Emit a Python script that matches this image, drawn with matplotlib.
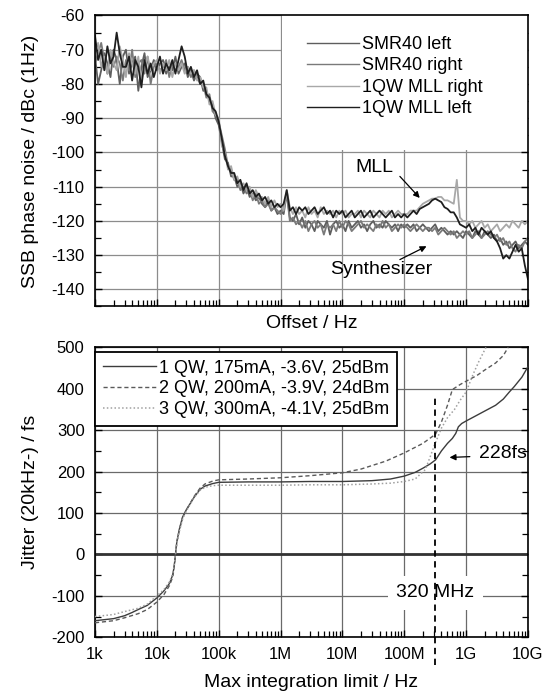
import numpy as np
import matplotlib
matplotlib.use("Agg")
import matplotlib.pyplot as plt
from matplotlib.patches import Rectangle
from matplotlib.ticker import LogLocator, MultipleLocator, FixedLocator, NullFormatter

plt.rcParams['font.family'] = ['Liberation Sans', 'DejaVu Sans']
plt.rcParams['axes.unicode_minus'] = False

# ---- top panel: SSB phase noise, sampled every 0.05 decade from 1 kHz to 10 GHz (log10 Hz)
noise_logf = [
    3.00, 3.05, 3.10, 3.15, 3.20, 3.25, 3.30, 3.35, 3.40, 3.45, 3.50, 3.55, 3.60, 3.65, 3.70, 3.75, 3.80, 3.85, 3.90, 3.95,
    4.00, 4.05, 4.10, 4.15, 4.20, 4.25, 4.30, 4.35, 4.40, 4.45, 4.50, 4.55, 4.60, 4.65, 4.70, 4.75, 4.80, 4.85, 4.90, 4.95,
    5.00, 5.05, 5.10, 5.15, 5.20, 5.25, 5.30, 5.35, 5.40, 5.45, 5.50, 5.55, 5.60, 5.65, 5.70, 5.75, 5.80, 5.85, 5.90, 5.95,
    6.00, 6.05, 6.10, 6.15, 6.20, 6.25, 6.30, 6.35, 6.40, 6.45, 6.50, 6.55, 6.60, 6.65, 6.70, 6.75, 6.80, 6.85, 6.90, 6.95,
    7.00, 7.05, 7.10, 7.15, 7.20, 7.25, 7.30, 7.35, 7.40, 7.45, 7.50, 7.55, 7.60, 7.65, 7.70, 7.75, 7.80, 7.85, 7.90, 7.95,
    8.00, 8.05, 8.10, 8.15, 8.20, 8.25, 8.30, 8.35, 8.40, 8.45, 8.50, 8.55, 8.60, 8.65, 8.70, 8.75, 8.80, 8.85, 8.90, 8.95,
    9.00, 9.05, 9.10, 9.15, 9.20, 9.25, 9.30, 9.35, 9.40, 9.45, 9.50, 9.55, 9.60, 9.65, 9.70, 9.75, 9.80, 9.85, 9.90, 9.95,
    10.00]

smr40_left = [
    -72, -80, -76, -71, -74, -78, -70, -73, -80, -72, -70, -77, -74, -72, -82, -75, -71, -78, -76, -73,
    -76, -74, -73, -77, -75, -76, -72, -77, -75, -74, -78, -76, -79, -77, -78, -82, -82, -85, -86, -90,
    -92, -97, -102, -103, -107, -107, -110, -109, -112, -110, -113, -112, -114, -113, -115, -116, -114, -117, -116, -118,
    -117, -118, -112, -119, -120, -118, -121, -119, -122, -120, -121, -123, -120, -121, -122, -120, -124, -121, -120, -122,
    -121, -123, -120, -122, -121, -120, -122, -121, -123, -121, -120, -122, -121, -122, -120, -121, -122, -121, -123, -121,
    -122, -121, -122, -121, -123, -122, -121, -122, -123, -122, -121, -123, -122, -123, -124, -123, -124, -123, -124, -125,
    -123, -124, -125, -123, -124, -125, -123, -124, -125, -124, -126, -125, -127, -126, -128, -127, -126, -128, -127, -126,
    -127]

smr40_right = [
    -74, -71, -68, -73, -77, -71, -75, -72, -74, -79, -73, -76, -70, -78, -74, -73, -77, -72, -80, -75,
    -74, -76, -75, -73, -78, -74, -76, -75, -73, -76, -75, -78, -76, -78, -80, -80, -84, -83, -88, -89,
    -91, -95, -99, -104, -105, -108, -108, -111, -110, -112, -111, -114, -112, -115, -114, -116, -115, -117, -116, -117,
    -118, -116, -112, -120, -119, -121, -120, -122, -120, -123, -121, -120, -122, -121, -124, -121, -122, -121, -123, -120,
    -122, -120, -121, -123, -122, -121, -120, -122, -121, -122, -123, -121, -122, -120, -122, -121, -123, -122, -121, -122,
    -121, -122, -123, -122, -121, -122, -123, -122, -122, -123, -122, -124, -123, -122, -123, -124, -123, -125, -124, -123,
    -124, -123, -125, -124, -123, -125, -124, -123, -124, -125, -124, -126, -125, -127, -126, -128, -129, -127, -128, -126,
    -125]

mll_right = [
    -70, -68, -75, -72, -77, -70, -74, -76, -69, -73, -78, -71, -74, -77, -72, -79, -75, -72, -76, -74,
    -73, -77, -74, -76, -73, -78, -74, -76, -74, -77, -75, -77, -76, -79, -78, -81, -81, -86, -85, -89,
    -90, -98, -100, -105, -104, -108, -107, -110, -109, -111, -110, -113, -111, -113, -113, -115, -113, -116, -114, -116,
    -115, -117, -111, -116, -118, -116, -118, -117, -119, -116, -118, -117, -119, -116, -118, -117, -118, -117, -119, -117,
    -118, -117, -119, -118, -118, -117, -119, -117, -118, -119, -117, -118, -119, -117, -118, -117, -119, -118, -117, -118,
    -118, -118, -117, -117, -117, -116, -115, -114.5, -114, -113.5, -113.5, -113, -113, -114, -114, -114.5, -115, -108, -119, -120,
    -120, -121, -120, -122, -121, -120, -122, -121, -123, -122, -121, -123, -122, -121, -122, -120, -121, -122, -120, -121,
    -120]

mll_left = [
    -66, -73, -70, -76, -69, -74, -72, -65, -71, -75, -75, -72, -79, -73, -75, -81, -73, -77, -74, -78,
    -75, -72, -77, -74, -76, -73, -77, -73, -69, -72, -77, -75, -78, -76, -80, -79, -83, -84, -87, -88,
    -91, -96, -101, -104, -106, -106, -109, -108, -111, -109, -112, -111, -113, -112, -114, -113, -115, -114, -116, -115,
    -116, -115, -111, -117, -116, -118, -116, -117, -116, -118, -117, -116, -118, -117, -116, -118, -117, -119, -117, -118,
    -117, -119, -118, -117, -119, -118, -117, -119, -118, -117, -119, -118, -117, -118, -119, -118, -117, -119, -118, -119,
    -118, -119, -118, -117, -118, -116.5, -116, -115.5, -115, -114, -113.5, -114, -114.5, -116, -116.5, -117.5, -117.5, -119, -121, -121.5,
    -122, -121, -123, -122, -124, -122, -123, -124, -123, -125, -126, -128, -131, -130, -131, -129, -127, -129, -128, -133,
    -137]

# ---- bottom panel: integrated jitter
qw1_f = [1e3, 2e3, 3e3, 4e3, 5e3, 7e3, 1e4, 1.3e4, 1.6e4, 1.8e4, 1.9e4, 2.0e4, 2.1e4, 2.3e4, 2.6e4, 3e4,
         4e4, 5e4, 6e4, 8e4, 1e5, 3e5, 1e6, 3e6, 1e7, 3e7, 6e7, 1e8, 1.5e8, 2e8, 2.6e8, 3.2e8,
         4e8, 5e8, 6e8, 6.8e8, 7.5e8, 8.5e8, 1e9, 1.5e9, 2e9, 3e9, 4e9, 5e9, 6e9, 8e9, 1e10]
qw1_jit = [-160, -155, -148, -140, -133, -123, -105, -88, -70, -50, -30, 0, 30, 60, 90, 108,
           138, 157, 165, 171, 174, 175, 175, 176, 176, 178, 182, 189, 198, 208, 218, 228,
           250, 268, 280, 292, 308, 316, 322, 336, 346, 360, 375, 392, 405, 428, 453]

qw2_f = [1e3, 2e3, 3e3, 5e3, 7e3, 1e4, 1.3e4, 1.6e4, 1.8e4, 1.9e4, 2.0e4, 2.1e4, 2.3e4, 2.6e4, 3e4,
         4e4, 5e4, 6e4, 8e4, 1e5, 3e5, 1e6, 3e6, 1e7, 2e7, 5e7, 1e8, 2e8, 3.2e8, 4e8, 5e8, 6e8,
         8e8, 1e9, 1.5e9, 2e9, 3e9, 4e9, 4.8e9]
qw2_jit = [-165, -160, -153, -143, -133, -115, -97, -75, -55, -32, 0, 28, 58, 88, 107,
           140, 160, 170, 177, 180, 182, 185, 190, 197, 206, 225, 245, 268, 290, 320, 360, 398,
           410, 418, 432, 445, 462, 480, 500]

qw3_f = [1e3, 2e3, 3e3, 5e3, 7e3, 1e4, 1.3e4, 1.6e4, 1.8e4, 1.9e4, 2.0e4, 2.1e4, 2.3e4, 2.6e4, 3e4,
         4e4, 5e4, 6e4, 8e4, 1e5, 1e6, 3e6, 1e7, 3e7, 6e7, 1e8, 1.5e8, 2.2e8, 3.2e8, 4e8, 5e8,
         6.5e8, 8e8, 1e9, 1.3e9, 1.6e9, 2.1e9]
qw3_jit = [-150, -145, -138, -130, -120, -100, -85, -66, -48, -28, 0, 28, 55, 85, 105,
           137, 155, 162, 166, 167, 167, 168, 168, 170, 172, 176, 182, 205, 270, 305, 330,
           350, 372, 392, 435, 465, 500]

MARK_F = 320e6
MARK_TOP = 380
MARK_BOTTOM = -267

x_ticks = [1e3, 1e4, 1e5, 1e6, 1e7, 1e8, 1e9, 1e10]
x_ticklabels = ['1k', '10k', '100k', '1M', '10M', '100M', '1G', '10G']

fig = plt.figure(figsize=(5.48, 6.98), dpi=100)
ax1 = fig.add_axes([0.1734, 0.5609, 0.790, 0.4169])
ax2 = fig.add_axes([0.1734, 0.0870, 0.790, 0.4155])

f_noise = 10 ** np.array(noise_logf)


def style_axis(ax, grid_color):
    ax.set_xscale('log')
    ax.set_xlim(1e3, 1e10)
    ax.xaxis.set_major_locator(FixedLocator(x_ticks))
    ax.xaxis.set_minor_locator(LogLocator(base=10, subs=np.arange(2, 10), numticks=20))
    ax.xaxis.set_minor_formatter(NullFormatter())
    ax.set_axisbelow(True)
    ax.grid(True, which='major', color=grid_color, lw=0.9)
    ax.tick_params(which='both', direction='in', left=True, right=True, top=False, bottom=True,
                   labelsize=12, color='black')
    ax.tick_params(which='major', length=5, width=1)
    ax.tick_params(which='minor', length=4, width=0.9)
    ax.tick_params(axis='y', pad=7.5)
    ax.tick_params(axis='x', pad=7)
    for s in ax.spines.values():
        s.set_linewidth(1.2)


# top panel
style_axis(ax1, '#8c8c8c')
ax1.plot(f_noise, smr40_left, color='#5e5e5e', lw=1.3, label='SMR40 left', zorder=2)
ax1.plot(f_noise, smr40_right, color='#7a7a7a', lw=1.3, label='SMR40 right', zorder=2)
ax1.plot(f_noise, mll_right, color='#a8a8a8', lw=1.3, label='1QW MLL right', zorder=2)
ax1.plot(f_noise, mll_left, color='#1e1e1e', lw=1.3, label='1QW MLL left', zorder=2)
ax1.set_ylim(-145, -60)
ax1.yaxis.set_major_locator(MultipleLocator(10))
ax1.yaxis.set_minor_locator(MultipleLocator(5))
ax1.tick_params(labelbottom=False)
ax1.set_xlabel('Offset / Hz', fontsize=14, labelpad=3)
ax1.set_ylabel('SSB phase noise / dBc (1Hz)', fontsize=14, labelpad=9)
ax1.add_patch(Rectangle((0.432, 0.538), 0.568, 0.462, transform=ax1.transAxes,
                        facecolor='white', edgecolor='none', zorder=1))
leg1 = ax1.legend(loc='upper left', bbox_to_anchor=(0.489, 0.93), frameon=False, fontsize=13,
                  handlelength=2.9, handletextpad=0.15, labelspacing=0.25, borderpad=0, borderaxespad=0)
for h in leg1.get_lines():
    h.set_linewidth(1.0)

arrow = dict(arrowstyle='-|>', color='black', lw=0.9, mutation_scale=9, shrinkA=0, shrinkB=0)
ax1.text(3.3e7, -104.3, 'MLL', fontsize=14, ha='center', va='center')
ax1.annotate('', xy=(1.78e8, -113.3), xytext=(8.5e7, -107), arrowprops=arrow)
ax1.text(4.2e7, -134.2, 'Synthesizer', fontsize=14, ha='center', va='center')
ax1.annotate('', xy=(2.29e8, -127.4), xytext=(8.5e7, -131.3), arrowprops=arrow)

# bottom panel
style_axis(ax2, '#6a6a6a')
ax2.axhline(0, color='#333333', lw=2.0, zorder=1)
ax2.plot(qw1_f, qw1_jit, color='#3c3c3c', lw=1.0, label='1 QW, 175mA, -3.6V, 25dBm', zorder=3)
ax2.plot(qw2_f, qw2_jit, color='#5a5a5a', lw=1.0, ls=(0, (3, 2)), label='2 QW, 200mA, -3.9V, 24dBm', zorder=3)
ax2.plot(qw3_f, qw3_jit, color='#a0a0a0', lw=1.1, ls=(0, (1, 1.5)), label='3 QW, 300mA, -4.1V, 25dBm', zorder=3)
ax2.set_ylim(-200, 500)
ax2.yaxis.set_major_locator(MultipleLocator(100))
ax2.yaxis.set_minor_locator(MultipleLocator(50))
ax2.set_xticklabels(x_ticklabels)
ax2.set_xlabel('Max integration limit / Hz', fontsize=14, labelpad=9)
ax2.set_ylabel('Jitter (20kHz-) / fs', fontsize=14, labelpad=9)

leg = ax2.legend(loc='upper left', bbox_to_anchor=(0.0, 0.985), fontsize=13, fancybox=False,
                 framealpha=1, edgecolor='black', handlelength=2.9, handletextpad=0.2,
                 labelspacing=0.2, borderpad=0.45, borderaxespad=0)
leg.get_frame().set_linewidth(1.3)
leg.set_zorder(5)

ax2.text(MARK_F, -93, '320 MHz', fontsize=14, ha='center', va='center', zorder=4,
         bbox=dict(facecolor='white', edgecolor='none', pad=6))
ax2.plot([MARK_F, MARK_F], [MARK_BOTTOM, MARK_TOP], color='black', lw=1.3,
         ls=(0, (3.5, 2.5)), clip_on=False, zorder=6)
ax2.text(1.6e9, 243, '228fs', fontsize=14, ha='left', va='center', zorder=4)
ax2.annotate('', xy=(5.4e8, 234), xytext=(1.15e9, 236), arrowprops=arrow)

fig.savefig('out.png', dpi=100)
